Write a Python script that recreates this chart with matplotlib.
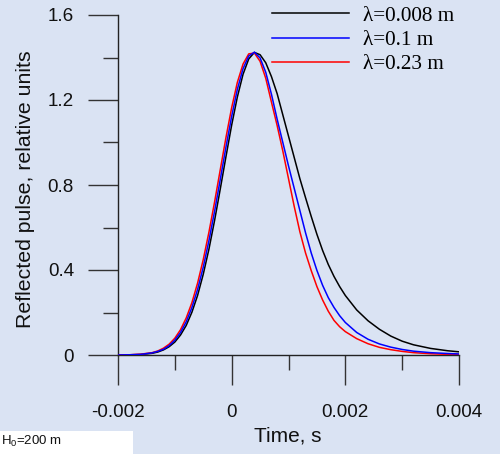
import matplotlib
matplotlib.use("Agg")
import matplotlib.pyplot as plt
from matplotlib.patches import Rectangle
from matplotlib.ticker import FixedLocator, FixedFormatter
import numpy as np

# reflected pulse for three wavelengths (H0 = 200 m), time in ms
time_ms = [-2.0, -1.8, -1.6, -1.4, -1.3, -1.2, -1.1, -1.0, -0.9, -0.8, -0.7, -0.6,
           -0.5, -0.4, -0.3, -0.2, -0.1, 0.0, 0.1, 0.2, 0.3, 0.4, 0.5, 0.6, 0.7,
           0.8, 0.9, 1.0, 1.1, 1.2, 1.3, 1.4, 1.5, 1.6, 1.7, 1.8, 1.9, 2.0, 2.2, 2.4,
           2.6, 2.8, 3.0, 3.2, 3.5, 3.8, 4.0]

pulse_0008 = [0.000, 0.001, 0.002, 0.008, 0.014, 0.024, 0.039, 0.061, 0.094, 0.139,
              0.201, 0.280, 0.380, 0.498, 0.634, 0.782, 0.934, 1.082, 1.214, 1.321,
              1.393, 1.424, 1.413, 1.375, 1.310, 1.230, 1.130, 1.030, 0.930, 0.830,
              0.740, 0.652, 0.568, 0.492, 0.426, 0.370, 0.322, 0.280, 0.212, 0.161,
              0.121, 0.089, 0.065, 0.048, 0.031, 0.020, 0.015]

pulse_01 = [0.000, 0.001, 0.003, 0.010, 0.017, 0.027, 0.044, 0.070, 0.106, 0.156,
            0.223, 0.308, 0.413, 0.538, 0.677, 0.827, 0.979, 1.123, 1.250, 1.347,
            1.407, 1.425, 1.398, 1.330, 1.227, 1.110, 1.000, 0.890, 0.785, 0.680,
            0.575, 0.480, 0.398, 0.328, 0.270, 0.224, 0.185, 0.153, 0.106, 0.074,
            0.052, 0.037, 0.026, 0.018, 0.011, 0.007, 0.005]

pulse_023 = [0.000, 0.001, 0.004, 0.011, 0.019, 0.032, 0.051, 0.079, 0.119, 0.174,
             0.246, 0.338, 0.449, 0.578, 0.721, 0.873, 1.024, 1.164, 1.283, 1.369,
             1.417, 1.421, 1.382, 1.302, 1.190, 1.080, 0.960, 0.830, 0.700, 0.580,
             0.480, 0.397, 0.322, 0.259, 0.206, 0.163, 0.133, 0.110, 0.077, 0.053,
             0.036, 0.025, 0.017, 0.011, 0.006, 0.003, 0.002]

labels = ["λ=0.008 m", "λ=0.1 m", "λ=0.23 m"]
colors = ["#000000", "#0000FF", "#FF0000"]

x_major = [-0.002, 0, 0.002, 0.004]
x_major_labels = ["-0.002", "0", "0.002", "0.004"]
x_minor = [-0.001, 0.001, 0.003]
y_major = [0, 0.4, 0.8, 1.2, 1.6]
y_major_labels = ["0", "0.4", "0.8", "1.2", "1.6"]
y_minor = [0.2, 0.6, 1.0, 1.4]

bg = "#DAE3F3"
plt.rcParams["font.family"] = ["Liberation Sans", "DejaVu Sans"]
plt.rcParams["mathtext.fontset"] = "custom"
plt.rcParams["mathtext.rm"] = "Liberation Sans"

fig = plt.figure(figsize=(5.0, 4.54), dpi=100, facecolor=bg)
ax = fig.add_axes([118 / 500, 99 / 454, 341 / 500, 340 / 454])
ax.set_facecolor(bg)

t = np.array(time_ms) * 1e-3
series = [pulse_0008, pulse_01, pulse_023]
zorders = [2, 4, 3]
handles = []
for y, c, lab, z in zip(series, colors, labels, zorders):
    h, = ax.plot(t, y, color=c, lw=1.1, label=lab, zorder=z)
    handles.append(h)

ax.set_xlim(-0.002, 0.004)
ax.set_ylim(0, 1.6)

for s in ["top", "right"]:
    ax.spines[s].set_visible(False)
for s in ["left", "bottom"]:
    ax.spines[s].set_linewidth(1.0)
    ax.spines[s].set_color("#222222")

ax.xaxis.set_major_locator(FixedLocator(x_major))
ax.xaxis.set_major_formatter(FixedFormatter(x_major_labels))
ax.xaxis.set_minor_locator(FixedLocator(x_minor))
ax.yaxis.set_major_locator(FixedLocator(y_major))
ax.yaxis.set_major_formatter(FixedFormatter(y_major_labels))
ax.yaxis.set_minor_locator(FixedLocator(y_minor))

ax.tick_params(which="major", direction="out", length=21.6, width=1.0,
               color="#333333", labelsize=13.6, labelcolor="#111111")
ax.tick_params(which="minor", direction="out", length=10.8, width=1.0,
               color="#333333")
ax.tick_params(axis="x", which="major", pad=14)
ax.tick_params(axis="y", which="major", pad=10)

fig.text(288 / 500, 1 - 436 / 454, "Time, s", ha="center", va="center",
         fontsize=15, color="#111111")
fig.text(26 / 500, 1 - 189 / 454, "Reflected pulse, relative units", ha="center",
         va="center", rotation=90, fontsize=15.3, color="#111111")

leg = fig.legend(handles=handles, labels=labels, loc="upper left",
                 bbox_to_anchor=(272 / 500, 1 - 6 / 454), frameon=False,
                 borderpad=0, borderaxespad=0, handlelength=3.62,
                 handletextpad=0.66, labelspacing=0.2,
                 prop={"family": "Liberation Serif", "size": 15.3})

# white label box in bottom-left corner
fig.patches.append(Rectangle((0, 0), 133 / 500, 23 / 454, transform=fig.transFigure,
                             facecolor="white", edgecolor="none", zorder=0))
fig.text(1 / 500, 13 / 454, "H$_0$=200 m", ha="left", va="center", fontsize=9.5,
         color="#111111")

fig.savefig("out.png", dpi=100, facecolor=bg)
